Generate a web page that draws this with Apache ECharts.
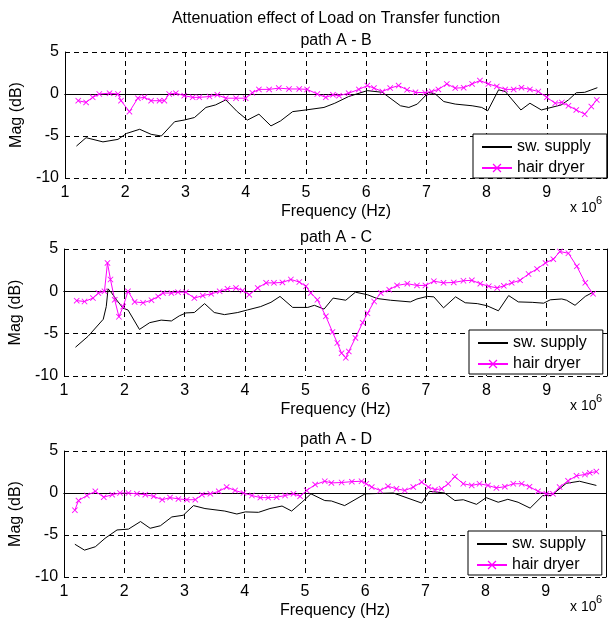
<!DOCTYPE html>
<html>
<head>
<meta charset="utf-8">
<script src="https://cdn.jsdelivr.net/npm/echarts@6/dist/echarts.min.js"></script>
<style>
  html, body { margin: 0; padding: 0; background: #fff; }
  #chart { width: 613px; height: 623px; }
</style>
</head>
<body>
<div id="chart"></div>
<script>
// 数据：频率 (MHz, x 10^6 Hz) 和幅值 (dB)
var pathTitles = ['path A - B', 'path A - C', 'path A - D'];
var seriesNames = ['sw. supply', 'hair dryer'];
var xTicks = [1, 2, 3, 4, 5, 6, 7, 8, 9];
var yTicks = [-10, -5, 0, 5];

// path A - B
var abSupply = [[1.19,-6.2],[1.35,-5.2],[1.63,-5.7],[1.88,-5.4],[2.02,-4.7],[2.24,-4.2],[2.43,-4.8],[2.6,-5.0],
  [2.82,-3.3],[2.98,-3.1],[3.15,-2.8],[3.34,-1.6],[3.5,-1.3],[3.67,-0.7],[3.86,-2.1],[4.03,-3.1],[4.22,-2.4],
  [4.42,-3.8],[4.58,-3.2],[4.78,-2.1],[5.0,-1.9],[5.3,-1.6],[5.48,-1.1],[5.71,-0.3],[6.02,0.4],[6.27,0.2],
  [6.57,-1.4],[6.71,-1.6],[6.85,-1.2],[7.04,0.2],[7.15,0.0],[7.29,-0.9],[7.48,-1.2],[7.76,-1.4],[7.92,-1.6],
  [8.02,-2.0],[8.2,0.5],[8.31,0.3],[8.57,-1.9],[8.72,-1.1],[8.91,-1.9],[9.02,-1.7],[9.24,-1.3],[9.36,-0.7],
  [9.49,0.15],[9.63,0.2],[9.84,0.75]];
var abDryer = [[1.22,-0.8],[1.35,-1.0],[1.46,-0.4],[1.57,0.0],[1.74,0.1],[1.88,0.0],[1.93,-0.8],[2.07,-2.1],
  [2.21,-0.5],[2.32,-0.4],[2.43,-0.8],[2.57,-0.8],[2.65,-0.8],[2.73,0.0],[2.84,0.1],[2.98,-0.2],[3.12,-0.4],
  [3.23,-0.4],[3.4,-0.3],[3.53,-0.1],[3.67,-0.5],[3.84,-0.5],[4.0,-0.5],[4.11,0.15],[4.22,0.55],[4.39,0.55],
  [4.55,0.7],[4.72,0.6],[4.89,0.6],[5.02,0.55],[5.19,0.0],[5.33,-0.4],[5.45,-0.1],[5.55,-0.2],[5.71,0.1],
  [5.88,0.55],[6.02,1.0],[6.13,0.7],[6.27,0.3],[6.4,0.7],[6.54,1.0],[6.68,0.5],[6.82,0.2],[6.98,0.15],
  [7.09,0.3],[7.2,0.55],[7.34,1.2],[7.48,0.7],[7.62,0.75],[7.76,1.2],[7.89,1.6],[8.03,1.2],[8.17,0.9],
  [8.31,0.55],[8.45,0.55],[8.58,0.75],[8.72,0.55],[8.86,0.3],[9.0,-0.4],[9.14,-1.1],[9.25,-1.0],[9.36,-1.4],
  [9.49,-1.9],[9.63,-2.4],[9.74,-1.5],[9.83,-0.7]];

// path A - C
var acSupply = [[1.19,-6.6],[1.4,-5.3],[1.65,-3.3],[1.7,-1.8],[1.73,0.3],[1.79,-0.2],[1.87,-1.0],[1.98,-2.0],
  [2.06,-2.2],[2.25,-4.5],[2.42,-3.7],[2.61,-3.4],[2.78,-3.5],[2.91,-2.9],[3.02,-2.55],[3.16,-2.5],[3.33,-1.45],
  [3.49,-2.5],[3.66,-2.75],[3.88,-2.5],[4.04,-2.2],[4.26,-1.8],[4.43,-1.3],[4.58,-0.6],[4.79,-1.9],[5.04,-1.9],
  [5.15,-1.65],[5.31,-2.1],[5.46,-0.8],[5.67,-1.05],[5.83,-0.1],[6.03,-0.4],[6.19,-0.85],[6.41,-1.05],
  [6.74,-1.25],[6.85,-0.9],[7.02,-0.6],[7.13,-0.65],[7.29,-1.95],[7.49,-0.65],[7.65,-1.35],[7.85,-1.45],
  [8.01,-1.7],[8.2,-2.3],[8.37,-0.5],[8.53,-1.25],[8.76,-1.3],[8.95,-1.4],[9.06,-1.0],[9.25,-0.9],[9.33,-1.05],
  [9.47,-1.65],[9.64,-0.6],[9.77,-0.1]];
var acDryer = [[1.21,-1.1],[1.34,-1.2],[1.48,-0.8],[1.57,-0.2],[1.67,0.0],[1.72,3.35],[1.77,1.4],[1.84,-1.0],
  [1.91,-3.0],[1.98,-1.8],[2.06,0.0],[2.17,-1.25],[2.31,-1.35],[2.45,-1.05],[2.56,-0.6],[2.64,-0.2],[2.78,-0.2],
  [2.89,-0.1],[3.02,-0.1],[3.16,-0.8],[3.3,-0.5],[3.44,-0.3],[3.58,0.0],[3.71,0.3],[3.85,0.4],[3.96,0.1],
  [4.07,-0.4],[4.21,0.4],[4.35,1.0],[4.48,1.0],[4.62,1.05],[4.76,1.4],[4.9,1.1],[5.01,0.6],[5.09,-0.2],
  [5.2,-1.0],[5.34,-2.95],[5.45,-4.8],[5.53,-6.1],[5.6,-7.3],[5.67,-7.85],[5.72,-7.1],[5.83,-5.5],[5.95,-3.7],
  [6.03,-2.6],[6.14,-1.2],[6.25,-0.2],[6.39,0.2],[6.52,0.7],[6.69,0.9],[6.85,0.7],[6.99,0.7],[7.13,1.2],
  [7.29,1.0],[7.46,1.05],[7.62,1.25],[7.76,1.3],[7.9,0.9],[8.04,0.6],[8.18,0.4],[8.29,0.65],[8.42,1.0],
  [8.56,1.3],[8.7,2.05],[8.84,2.65],[8.98,3.35],[9.11,3.8],[9.22,4.7],[9.36,4.5],[9.5,2.95],[9.64,1.0],[9.77,-0.3]];

// path A - D
var adSupply = [[1.18,-6.1],[1.34,-6.8],[1.52,-6.4],[1.68,-5.4],[1.88,-4.4],[2.07,-4.3],[2.27,-3.4],[2.43,-4.2],
  [2.6,-3.9],[2.79,-2.85],[2.98,-2.65],[3.15,-1.5],[3.34,-1.85],[3.67,-2.15],[3.87,-2.5],[4.01,-2.25],[4.23,-2.3],
  [4.42,-1.85],[4.62,-1.55],[4.78,-2.15],[4.95,-1.1],[5.1,-0.1],[5.33,-0.9],[5.44,-0.95],[5.66,-1.5],[6.0,-0.1],
  [6.47,0.0],[6.94,-1.2],[7.07,0.2],[7.32,0.0],[7.49,-0.9],[7.63,-0.8],[7.85,-1.35],[8.01,-0.55],[8.21,-1.1],
  [8.37,-0.75],[8.54,-1.1],[8.74,-1.8],[8.95,-0.3],[9.09,-0.3],[9.34,1.15],[9.56,1.4],[9.84,0.9]];
var adDryer = [[1.18,-2.05],[1.24,-0.9],[1.38,-0.3],[1.52,0.2],[1.66,-0.5],[1.8,-0.2],[1.93,0.0],[2.07,0.0],
  [2.21,-0.1],[2.35,-0.2],[2.49,-0.4],[2.63,-0.8],[2.76,-0.55],[2.9,-0.7],[3.04,-0.8],[3.18,-0.8],[3.29,-0.2],
  [3.43,-0.1],[3.57,0.2],[3.7,0.7],[3.84,0.3],[3.98,0.0],[4.12,-0.3],[4.26,-0.55],[4.39,-0.55],[4.53,-0.5],
  [4.67,-0.3],[4.81,-0.1],[4.92,-0.4],[5.03,0.3],[5.17,1.0],[5.33,1.4],[5.44,1.2],[5.61,1.25],[5.78,1.35],
  [5.94,1.4],[6.02,1.1],[6.11,0.7],[6.25,0.3],[6.38,0.8],[6.52,0.5],[6.66,0.3],[6.8,0.7],[6.94,1.3],[7.05,0.7],
  [7.16,0.4],[7.27,0.5],[7.38,1.1],[7.49,1.95],[7.63,1.1],[7.77,0.9],[7.9,1.1],[8.04,0.9],[8.18,0.6],[8.32,0.75],
  [8.46,1.1],[8.6,1.1],[8.73,0.75],[8.87,0.2],[9.01,-0.1],[9.12,-0.1],[9.23,0.7],[9.37,1.45],[9.51,2.05],
  [9.65,2.2],[9.73,2.4],[9.84,2.55]];

var supplyData = [abSupply, acSupply, adSupply];
var dryerData = [abDryer, acDryer, adDryer];

var chart = echarts.init(document.getElementById('chart'));

var font = 'Liberation Sans, Arial, Helvetica, sans-serif';
// 每个子图的位置
var grids = [
  {left: 65, top: 52, width: 542, height: 126},
  {left: 63, top: 249, width: 544, height: 127},
  {left: 62, top: 451, width: 544, height: 126}
];
var legendPos = [{left: 473, top: 134}, {left: 469, top: 330}, {left: 468, top: 531}];
var crossMark = 'path://M0,1L1,0L5,4L9,0L10,1L6,5L10,9L9,10L5,6L1,10L0,9L4,5Z';

var xAxes = [], yAxes = [], series = [], legends = [], graphics = [];

grids.forEach(function (g, i) {
  xAxes.push({
    type: 'value', gridIndex: i, min: 1, max: 10, interval: 1,
    name: 'Frequency (Hz)', nameLocation: 'middle', nameGap: 26,
    nameTextStyle: {color: '#000', fontSize: 16, fontFamily: font},
    axisLine: {lineStyle: {color: '#000', width: 1}},
    axisTick: {inside: true, length: 4, lineStyle: {color: '#000'}},
    axisLabel: {
      color: '#000', fontSize: 16, fontFamily: font, margin: 7,
      formatter: function (v) { return xTicks.indexOf(v) >= 0 ? String(v) : ''; }
    },
    splitLine: {show: true, lineStyle: {color: '#000', type: [5, 4], width: 1}}
  });
  yAxes.push({
    type: 'value', gridIndex: i, min: -10, max: 5, interval: 5,
    name: 'Mag (dB)', nameLocation: 'middle', nameGap: 29,
    nameTextStyle: {color: '#000', fontSize: 16, fontFamily: font},
    axisLine: {show: true, lineStyle: {color: '#000', width: 1}},
    axisTick: {show: true, inside: true, length: 4, lineStyle: {color: '#000'}},
    axisLabel: {
      color: '#000', fontSize: 16, fontFamily: font, margin: 6,
      formatter: function (v) { return yTicks.indexOf(v) >= 0 ? String(v) : ''; }
    },
    splitLine: {show: true, lineStyle: {color: '#000', type: [5, 4], width: 1}}
  });

  series.push({
    name: seriesNames[0], type: 'line', xAxisIndex: i, yAxisIndex: i,
    data: supplyData[i], showSymbol: false, symbol: 'circle', symbolSize: 0,
    lineStyle: {color: '#000', width: 1}, itemStyle: {color: '#000'}
  });
  series.push({
    name: seriesNames[1], type: 'line', xAxisIndex: i, yAxisIndex: i,
    data: dryerData[i], symbol: crossMark, symbolSize: 6, showSymbol: true,
    lineStyle: {color: '#ff00ff', width: 1}, itemStyle: {color: '#ff00ff'}
  });

  legends.push({
    data: [
      {name: seriesNames[0], itemStyle: {color: 'rgba(0,0,0,0)', borderColor: 'rgba(0,0,0,0)', borderWidth: 0}},
      {name: seriesNames[1]}
    ],
    orient: 'vertical',
    left: legendPos[i].left, top: legendPos[i].top,
    backgroundColor: '#fff', borderColor: '#000', borderWidth: 1, borderRadius: 0,
    padding: [5, 16, 2, 8], itemGap: 5, itemWidth: 30, itemHeight: 11,
    selectedMode: false,
    textStyle: {color: '#000', fontSize: 16, fontFamily: font}
  });

  // 子图标题和 x 10^6
  var top = g.top, bottom = g.top + g.height;
  graphics.push({
    type: 'text', x: 336, y: top - 11,
    style: {text: pathTitles[i], fill: '#000', font: '16px ' + font, textAlign: 'center', textVerticalAlign: 'middle'}
  });
  graphics.push({
    type: 'text', x: 570, y: bottom + 30,
    style: {text: 'x 10', fill: '#000', font: '14px ' + font, textAlign: 'left', textVerticalAlign: 'middle'}
  });
  graphics.push({
    type: 'text', x: 596, y: bottom + 23,
    style: {text: '6', fill: '#000', font: '11px ' + font, textAlign: 'left', textVerticalAlign: 'middle'}
  });
});

// 顶部和右侧的坐标轴，画出完整的框
grids.forEach(function (g, i) {
  xAxes.push({
    type: 'value', gridIndex: i, min: 1, max: 10, interval: 1, position: 'top',
    axisLine: {lineStyle: {color: '#000', width: 1}},
    axisTick: {inside: true, length: 4, lineStyle: {color: '#000'}},
    axisLabel: {show: false}, splitLine: {show: false}
  });
  yAxes.push({
    type: 'value', gridIndex: i, min: -10, max: 5, interval: 5, position: 'right',
    axisLine: {show: true, lineStyle: {color: '#000', width: 1}},
    axisTick: {show: true, inside: true, length: 4, lineStyle: {color: '#000'}},
    axisLabel: {show: false}, splitLine: {show: false}
  });
});

graphics.push({
  type: 'text', x: 336, y: 19,
  style: {text: 'Attenuation effect of Load on Transfer function', fill: '#000',
    font: '16px ' + font, textAlign: 'center', textVerticalAlign: 'middle'}
});

var option = {
  backgroundColor: '#fff',
  animation: false,
  grid: grids,
  xAxis: xAxes,
  yAxis: yAxes,
  legend: legends,
  series: series,
  graphic: graphics
};

chart.setOption(option);

window.onresize = function () {
  chart.resize();
};
</script>
</body>
</html>
